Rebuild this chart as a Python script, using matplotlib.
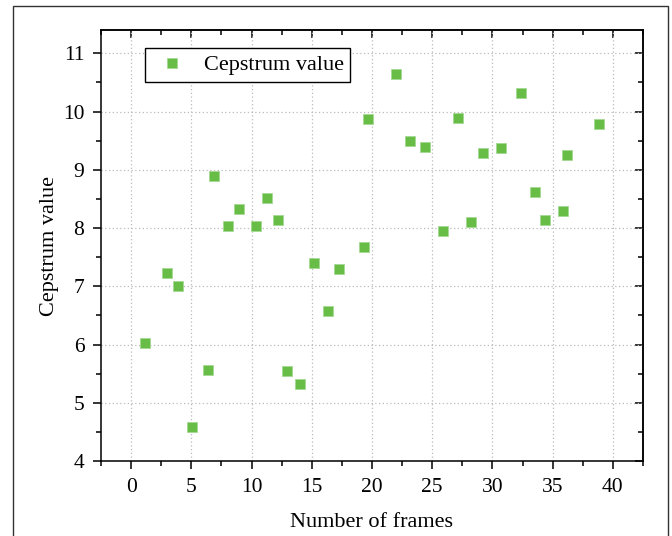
import numpy as np
import matplotlib
matplotlib.use("Agg")
import matplotlib.pyplot as plt
from matplotlib.ticker import MultipleLocator
from matplotlib.patches import Rectangle

# data
frames = [1.19, 2.99, 3.93, 5.09, 6.39, 6.89, 8.05, 8.96, 10.34, 11.25,
          12.20, 12.91, 14.05, 15.21, 16.37, 17.29, 19.36, 19.69, 21.96, 23.12,
          24.40, 25.92, 27.16, 28.24, 29.18, 30.67, 32.34, 33.50, 34.33, 35.82,
          36.23, 38.83]
cepstrum = [6.03, 7.22, 7.00, 4.59, 5.56, 8.90, 8.03, 8.32, 8.03, 8.52,
            8.13, 5.54, 5.33, 7.40, 6.58, 7.29, 7.67, 9.88, 10.65, 9.50,
            9.39, 7.95, 9.89, 8.11, 9.29, 9.37, 10.32, 8.62, 8.13, 8.30,
            9.25, 9.79]

plt.rcParams['font.family'] = ['Liberation Serif', 'DejaVu Serif']
plt.rcParams['axes.linewidth'] = 1.1

fig = plt.figure(figsize=(6.72, 5.36), dpi=100)
ax = fig.add_axes([101/672, 1-461/536, 542/672, 431/536])

# outer frame
fig.patches.append(Rectangle((13/672, -0.01), 655/672, 1-6/536+0.01,
                             transform=fig.transFigure, fill=False,
                             edgecolor='#333333', linewidth=1.0))

ax.plot(frames, cepstrum, 's', color='#67BD45', markersize=7.4,
        markeredgecolor='#A6D995', markeredgewidth=0.6,
        label='Cepstrum value', zorder=3)

ax.set_xlim(-2.5, 42.5)
ax.set_ylim(4, 11.4)
ax.xaxis.set_major_locator(MultipleLocator(5))
ax.xaxis.set_minor_locator(MultipleLocator(2.5))
ax.yaxis.set_major_locator(MultipleLocator(1))
ax.yaxis.set_minor_locator(MultipleLocator(0.5))
ax.tick_params(which='major', direction='out', length=6, width=1.1,
               labelsize=15.5, pad=6)
ax.tick_params(which='minor', direction='out', length=3.5, width=1.1)

ax.grid(True, which='major', color='#BBBBBB', linestyle=(0, (1, 2)),
        linewidth=0.9)

# inward ticks on top and right
top = ax.secondary_xaxis('top')
top.xaxis.set_major_locator(MultipleLocator(5))
top.xaxis.set_minor_locator(MultipleLocator(2.5))
top.tick_params(which='major', direction='in', length=6, width=1.1,
                labeltop=False)
top.tick_params(which='minor', direction='in', length=3.5, width=1.1)
right = ax.secondary_yaxis('right')
right.yaxis.set_major_locator(MultipleLocator(1))
right.yaxis.set_minor_locator(MultipleLocator(0.5))
right.tick_params(which='major', direction='in', length=6, width=1.1,
                  labelright=False)
right.tick_params(which='minor', direction='in', length=3.5, width=1.1)

ax.set_xlabel('Number of frames', fontsize=16, labelpad=12)
ax.set_ylabel('Cepstrum value', fontsize=16, labelpad=3)

leg = ax.legend(loc='upper left', bbox_to_anchor=(0.081, 0.958),
                fontsize=16, frameon=True, fancybox=False,
                edgecolor='black', framealpha=1, borderpad=0.3,
                handlelength=1.8, handletextpad=0.55, borderaxespad=0)
leg.get_frame().set_linewidth(1.0)

plt.savefig('out.png', dpi=100)
